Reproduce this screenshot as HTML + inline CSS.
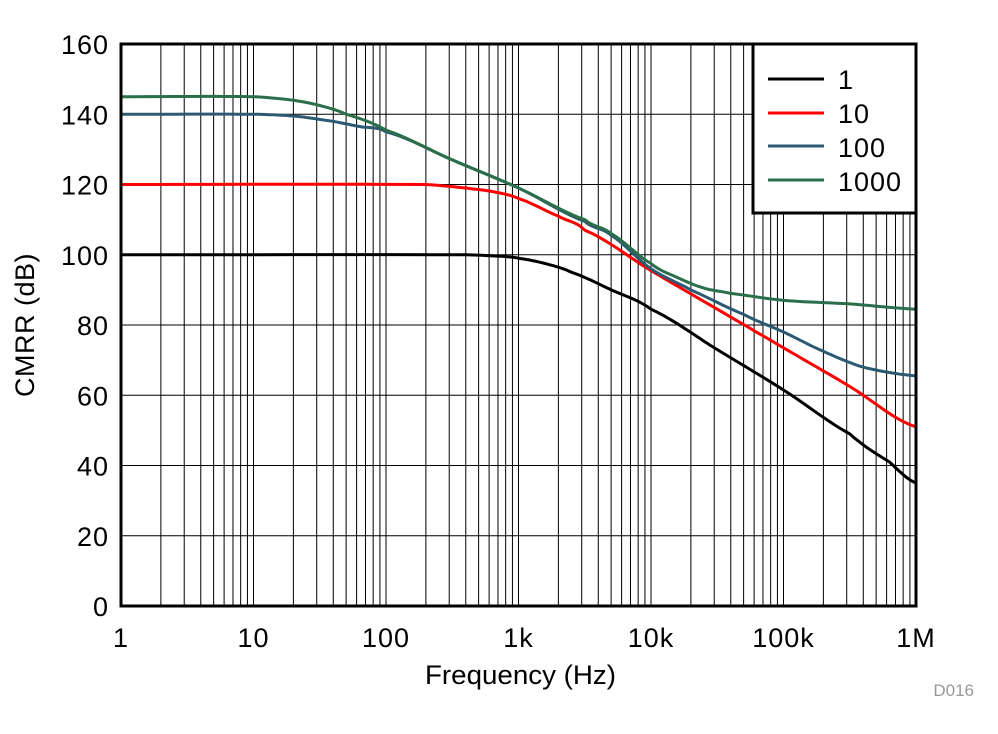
<!DOCTYPE html>
<html><head><meta charset="utf-8"><style>
html,body{margin:0;padding:0;background:#fff;}
svg{display:block;font-family:"Liberation Sans",Arial,sans-serif;}
</style></head><body>
<svg id="s" width="998" height="734" viewBox="0 0 998 734" xmlns="http://www.w3.org/2000/svg">
<g id="grid" stroke="#000" stroke-width="1"></g>
<g id="curves" fill="none" stroke-width="3" stroke-linejoin="round"></g>
<rect x="121" y="44" width="795" height="562" fill="none" stroke="#000" stroke-width="3"/>
<rect x="753" y="44" width="163" height="169" fill="#fff" stroke="#000" stroke-width="3"/>
<g stroke-width="3">
<line x1="768" y1="79" x2="824" y2="79" stroke="#000"/>
<line x1="768" y1="113" x2="824" y2="113" stroke="#ff0000"/>
<line x1="768" y1="146" x2="824" y2="146" stroke="#2b5a72"/>
<line x1="768" y1="180" x2="824" y2="180" stroke="#2a6e4a"/>
</g>
<g font-size="27" fill="#000" letter-spacing="1">
<text x="838" y="89">1</text>
<text x="838" y="123">10</text>
<text x="838" y="157">100</text>
<text x="838" y="191">1000</text>
</g>
<g font-size="27" text-anchor="end" id="yl" letter-spacing="1"></g>
<g font-size="27" text-anchor="middle" id="xl" letter-spacing="1"></g>
<text x="425" y="684" font-size="27" textLength="191" lengthAdjust="spacingAndGlyphs">Frequency (Hz)</text>
<text transform="translate(34,325) rotate(-90)" font-size="27" text-anchor="middle" letter-spacing="0.5">CMRR (dB)</text>
<text x="974" y="696" font-size="17" fill="#999" text-anchor="end">D016</text>
</svg>
<script>
var NS="http://www.w3.org/2000/svg";
function X(l){return 121+l*132.5;}function Y(v){return 606-v*3.5125;}
function el(p,t,a,txt){var e=document.createElementNS(NS,t);for(var k in a)e.setAttribute(k,a[k]);if(txt!==undefined)e.textContent=txt;p.appendChild(e);return e;}
var g=document.getElementById('grid');
for(var d=0;d<6;d++)for(var m=1;m<10;m++){var x=X(d+Math.log10(m));if(m==1&&d==0)continue;el(g,'line',{x1:x,y1:44,x2:x,y2:606});}
for(var v=20;v<160;v+=20)el(g,'line',{x1:121,y1:Y(v),x2:916,y2:Y(v)});
var yl=document.getElementById('yl');
for(var v=0;v<=160;v+=20)el(yl,'text',{x:109,y:Y(v)+10},String(v));
var xl=document.getElementById('xl');var labs=['1','10','100','1k','10k','100k','1M'];
for(var i=0;i<7;i++)el(xl,'text',{x:X(i),y:647},labs[i]);
var data=[
['#000',[[0,100],[2.6,100],[2.9,99.5],[3,99],[3.2,97.5],[3.4,95],[3.7,90],[4,84.5],[4.5,73],[5,61.5],[5.5,49],[5.8,41],[6,35]]],
['#ff0000',[[0,120],[2.3,120],[2.6,119],[2.8,118],[3,116],[3.3,111],[3.5,107],[4,95.5],[4.5,84.5],[5,73.5],[5.5,62.5],[6,51]]],
['#2b5a72',[[0,140],[1,140],[1.3,139.5],[1.6,138],[1.8,136.5],[2,135],[2.5,127],[3,119],[3.5,109.5],[3.7,105.5],[4,96],[4.3,90],[4.7,83],[5,78],[5.3,72.5],[5.6,68],[6,65.5]]],
['#2a6e4a',[[0,145],[1,145],[1.3,144],[1.5,142.5],[1.7,140],[2,135.5],[2.5,127],[3,119],[3.5,110],[3.7,106],[4,97.5],[4.2,93.5],[4.4,90.5],[4.6,89],[5,87],[5.5,86],[6,84.5]]]];
var cg=document.getElementById('curves');
data.forEach(function(s){var p=s[1],d='';
for(var i=0;i<p.length-1;i++){var a=p[i],b=p[i+1],n=10;for(var k=0;k<n;k++){var t=k/n;var l=a[0]+(b[0]-a[0])*t;
var p0=p[Math.max(i-1,0)],p3=p[Math.min(i+2,p.length-1)];
var t2=t*t,t3=t2*t;var v=0.5*((2*a[1])+(-p0[1]+b[1])*t+(2*p0[1]-5*a[1]+4*b[1]-p3[1])*t2+(-p0[1]+3*a[1]-3*b[1]+p3[1])*t3);
d+=(d?'L':'M')+X(l).toFixed(1)+' '+Y(v).toFixed(1);}}
var e=p[p.length-1];d+='L'+X(e[0])+' '+Y(e[1]);
el(cg,'path',{d:d,stroke:s[0]});});
</script>
</body></html>
